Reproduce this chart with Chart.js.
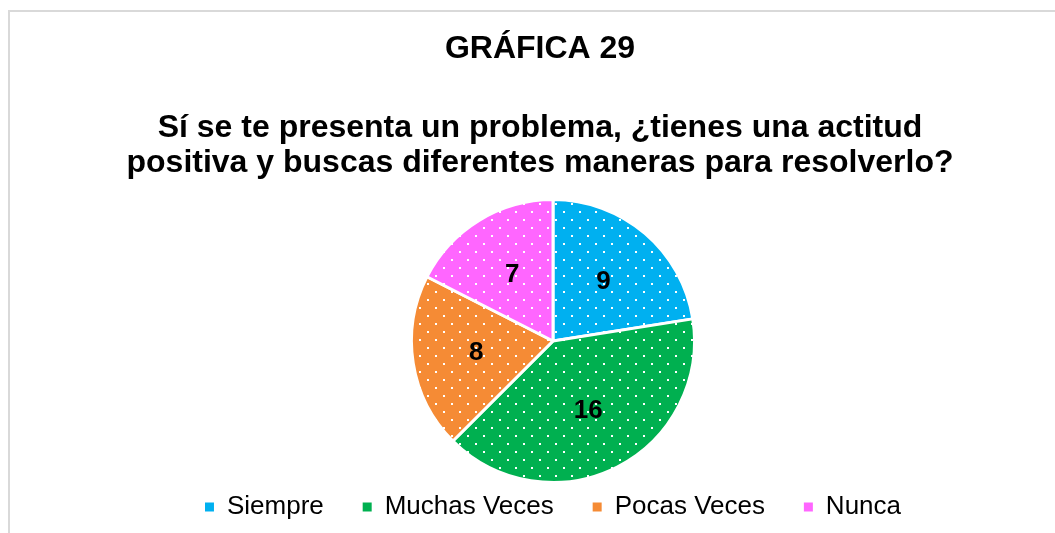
<!DOCTYPE html>
<html>
<head>
<meta charset="utf-8">
<script src="https://cdn.jsdelivr.net/npm/chart.js@4"></script>
<style>
  html,body{margin:0;padding:0;background:#fff;overflow:hidden}
  #frame{position:absolute;left:8px;top:10px;width:1200px;height:600px;
         border-left:2px solid #d9d9d9;border-top:2px solid #d9d9d9}
  #wrap{position:absolute;left:0;top:0;width:1055px;height:533px}
</style>
</head>
<body>
<div id="frame"></div>
<div id="wrap"><canvas id="c"></canvas></div>
<script>
/* ---------- datos ---------- */
const categorias = ['Siempre', 'Muchas Veces', 'Pocas Veces', 'Nunca'];
const valores    = [9, 16, 8, 7];
const colores    = ['#00B0F0', '#00B050', '#F58B35', '#FF66FF'];
const titulo     = 'GRÁFICA 29';
const subtitulo  = ['Sí se te presenta un problema, ¿tienes una actitud',
                    'positiva y buscas diferentes maneras para resolverlo?'];

const FUENTE = '"Liberation Sans", Arial, sans-serif';

/* ---------- patrón de puntos blancos ---------- */
function dots(color){
  const p = document.createElement('canvas');
  p.width = 16; p.height = 16;
  const g = p.getContext('2d');
  g.fillStyle = color; g.fillRect(0,0,16,16);
  g.fillStyle = '#fff';
  g.fillRect(3,3,2,2);
  g.fillRect(11,11,2,2);
  return g.createPattern(p,'repeat');
}

/* ---------- títulos (centrados en el marco, no en el gráfico) ---------- */
const titulos = {
  id:'titulos',
  afterDraw(chart){
    const ctx = chart.ctx;
    ctx.save();
    ctx.fillStyle = '#000';
    ctx.textAlign = 'center';
    ctx.textBaseline = 'middle';
    ctx.font = 'bold 32px ' + FUENTE;
    ctx.fillText(titulo, 540, 49);
    subtitulo.forEach((t,i)=>ctx.fillText(t, 540, 128 + i*35));
    ctx.restore();
  }
};

/* ---------- etiquetas de datos ---------- */
const etiquetas = {
  id:'etiquetas',
  afterDatasetsDraw(chart){
    const ctx = chart.ctx;
    ctx.save();
    ctx.fillStyle = '#000';
    ctx.textAlign = 'center';
    ctx.textBaseline = 'middle';
    ctx.font = 'bold 26px ' + FUENTE;
    chart.getDatasetMeta(0).data.forEach((arc,i)=>{
      const {x,y,startAngle,endAngle,outerRadius} = arc.getProps(['x','y','startAngle','endAngle','outerRadius'],true);
      const a = (startAngle+endAngle)/2, r = outerRadius*0.55;
      ctx.fillText(String(valores[i]), x + Math.cos(a)*r, y + Math.sin(a)*r);
    });
    ctx.restore();
  }
};

new Chart(document.getElementById('c'), {
  type:'pie',
  data:{
    labels:categorias,
    datasets:[{
      data:valores,
      backgroundColor:colores.map(dots),
      borderColor:'#fff',
      borderWidth:3
    }]
  },
  options:{
    responsive:true, maintainAspectRatio:false, animation:false,
    layout:{ padding:{ top:198, left:51, right:0, bottom:3 } },
    plugins:{
      tooltip:{ enabled:false },
      legend:{
        position:'bottom',
        labels:{
          color:'#000',
          font:{ family:FUENTE, size:26 },
          boxWidth:9, boxHeight:9, padding:10,
          generateLabels(chart){
            const n = categorias.length;
            return Chart.overrides.pie.plugins.legend.labels.generateLabels(chart)
              .map((l,i)=>({...l,
                text: i < n-1 ? l.text + '    ' : l.text,
                fillStyle:colores[i], lineWidth:0, strokeStyle:colores[i]}));
          }
        }
      }
    }
  },
  plugins:[titulos, etiquetas]
});
</script>
</body>
</html>
